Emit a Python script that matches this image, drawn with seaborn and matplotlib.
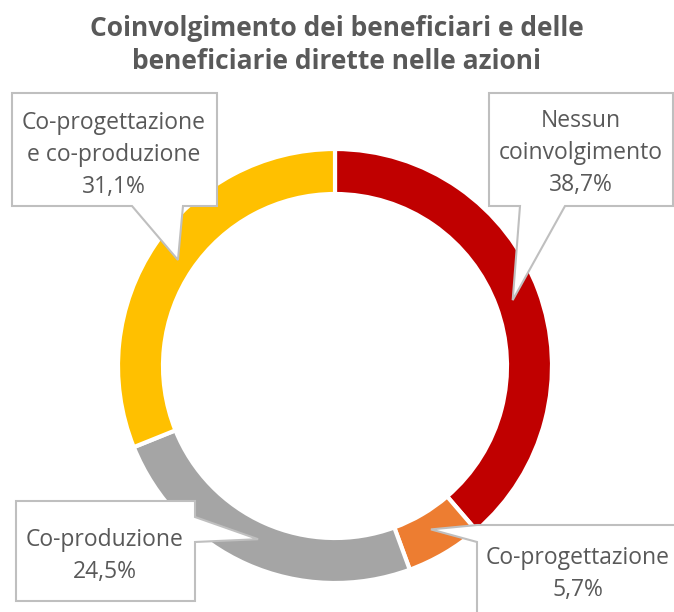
import numpy as np
import matplotlib.pyplot as plt
import seaborn as sns
from matplotlib.patches import Polygon

# Data
categories = ["Nessun\ncoinvolgimento", "Co-progettazione", "Co-produzione",
              "Co-progettazione\ne co-produzione"]
values = [38.7, 5.7, 24.5, 31.1]
colors = ["#C00000", "#ED7D31", "#A5A5A5", "#FFC000"]
title = "Coinvolgimento dei beneficiari e delle\nbeneficiarie dirette nelle azioni"

sns.set_theme(style="white")
plt.rcParams['font.family'] = ['Open Sans', 'DejaVu Sans']

W, H = 674, 612
fig = plt.figure(figsize=(W / 100, H / 100), dpi=100)
ax = fig.add_axes([0, 0, 1, 1])

# donut geometry in pixel units (y measured from top)
cx, cy, R, ring = 335, 366, 217, 45

ax.pie(values, colors=colors, startangle=90, counterclock=False,
       radius=R, center=(cx, H - cy),
       wedgeprops=dict(width=ring, edgecolor="white", linewidth=3))
ax.set_xlim(0, W)
ax.set_ylim(0, H)
ax.set_aspect("equal")
ax.axis("off")

# callout layout: box (x0, y0, x1, y1), side of pointer, pointer base, text centre
layout = [
    dict(box=(489, 93, 673, 206), side="bottom", base=(520, 565), text=(581, 153)),
    dict(box=(477, 525, 720, 650), side="left", base=(525, 542), text=(578, 574)),
    dict(box=(16, 501, 195, 601), side="right", base=(517, 542), text=(105, 556)),
    dict(box=(12, 93, 217, 206), side="bottom", base=(132, 183), text=(114, 155)),
]

edge = "#BFBFBF"
txt = "#595959"

start = 90.0
for name, val, lay in zip(categories, values, layout):
    span = val / sum(values) * 360
    mid = np.deg2rad(start - span / 2)
    start -= span
    r_tip = R - ring / 2 - 5
    tx, ty = cx + r_tip * np.cos(mid), cy - r_tip * np.sin(mid)

    x0, y0, x1, y1 = lay["box"]
    b0, b1 = lay["base"]
    if lay["side"] == "bottom":
        pts = [(x0, y0), (x1, y0), (x1, y1), (b1, y1), (tx, ty), (b0, y1), (x0, y1)]
    elif lay["side"] == "right":
        pts = [(x0, y0), (x1, y0), (x1, b0), (tx, ty), (x1, b1), (x1, y1), (x0, y1)]
    else:
        pts = [(x0, y0), (x1, y0), (x1, y1), (x0, y1), (x0, b1), (tx, ty), (x0, b0)]
    pts = [(px, H - py) for px, py in pts]
    ax.add_patch(Polygon(pts, closed=True, facecolor="white", edgecolor=edge,
                         linewidth=1.5, zorder=3))

    label = name + "\n" + f"{val:.1f}%".replace(".", ",")
    ax.text(lay["text"][0], H - lay["text"][1], label, ha="center", va="center",
            fontsize=16.5, color=txt, linespacing=1.45, zorder=4)

fig.text(0.5, 1 - 45 / H, title, ha="center", va="center", fontsize=19,
         fontweight="bold", color=txt, linespacing=1.3)

fig.savefig("out.png", dpi=100)
plt.close()
